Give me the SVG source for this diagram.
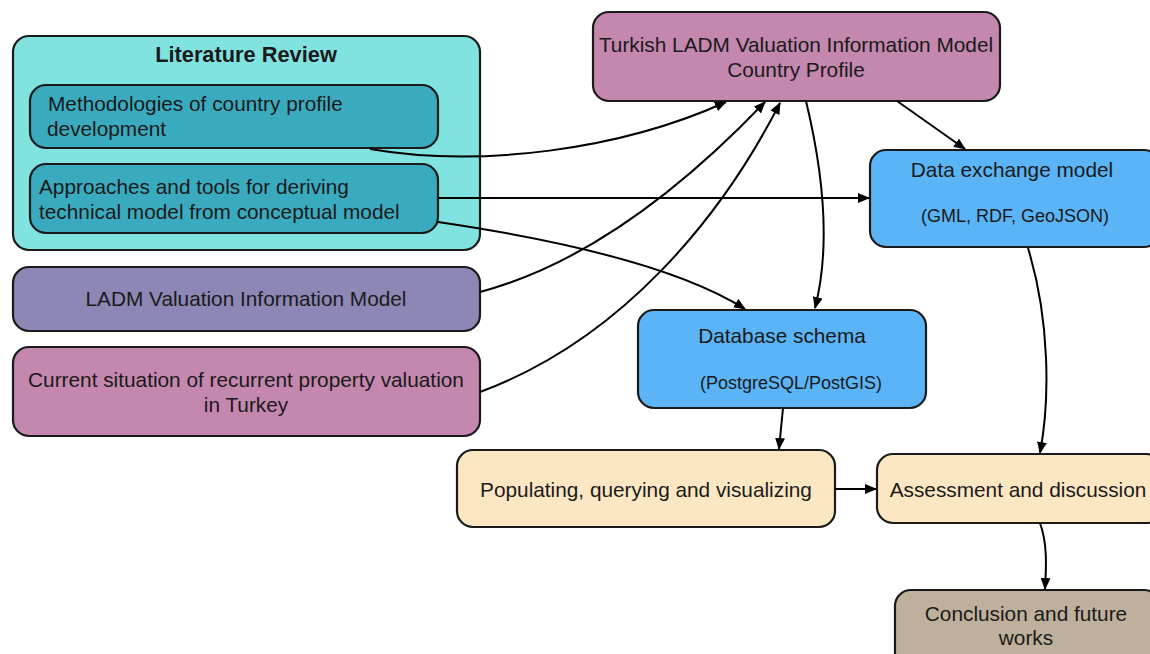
<svg xmlns="http://www.w3.org/2000/svg" width="1150" height="654" viewBox="0 0 1150 654">
<style>
.box{stroke:#1a1a1a;stroke-width:2.2}
.t{font-family:"Liberation Sans",Arial,sans-serif;font-size:20.8px;fill:#1a1a1a}
.s{font-size:18px}
.b{font-size:21.8px;font-weight:bold}
.c{text-anchor:middle}
.e{fill:none;stroke:#000;stroke-width:2}
</style>
<defs>
<marker id="ah" markerUnits="userSpaceOnUse" markerWidth="12" markerHeight="10" refX="11" refY="5" orient="auto">
<path d="M0,0 L12,5 L0,10 z" fill="#000"/>
</marker>
</defs>
<rect width="1150" height="654" fill="#fff"/>
<g id="lit">
<rect class="box" x="13" y="36" width="467" height="214" rx="16" fill="#80e3e0"/>
<text class="t c b" x="246" y="62">Literature Review</text>
</g>
<g id="meth">
<rect class="box" x="30" y="85" width="408" height="63" rx="16" fill="#3aabbf"/>
<text class="t" x="48" y="111">Methodologies of country profile</text>
<text class="t" x="47" y="136">development</text>
</g>
<g id="appr">
<rect class="box" x="30" y="164" width="408" height="69" rx="16" fill="#3aabbf"/>
<text class="t" x="39" y="194">Approaches and tools for deriving</text>
<text class="t" x="39" y="219">technical model from conceptual model</text>
</g>
<g id="ladm">
<rect class="box" x="13" y="267" width="467" height="64" rx="16" fill="#8c87b4"/>
<text class="t c" x="246" y="306">LADM Valuation Information Model</text>
</g>
<g id="curr">
<rect class="box" x="13" y="347" width="467" height="89" rx="16" fill="#c487ad"/>
<text class="t c" x="246" y="387">Current situation of recurrent property valuation</text>
<text class="t c" x="246" y="412">in Turkey</text>
</g>
<g id="turk">
<rect class="box" x="593" y="12" width="407" height="89" rx="16" fill="#c487ad"/>
<text class="t c" x="796" y="52">Turkish LADM Valuation Information Model</text>
<text class="t c" x="796" y="77">Country Profile</text>
</g>
<g id="dex">
<rect class="box" x="870" y="150" width="290" height="97" rx="16" fill="#5bb4f5"/>
<text class="t c" x="1012" y="177">Data exchange model</text>
<text class="t c s" x="1015" y="222">(GML, RDF, GeoJSON)</text>
</g>
<g id="db">
<rect class="box" x="638" y="310" width="288" height="98" rx="16" fill="#5bb4f5"/>
<text class="t c" x="782" y="343">Database schema</text>
<text class="t c s" x="791" y="389">(PostgreSQL/PostGIS)</text>
</g>
<g id="pop">
<rect class="box" x="457" y="450" width="378" height="77" rx="16" fill="#fde7c3"/>
<text class="t c" x="646" y="497">Populating, querying and visualizing</text>
</g>
<g id="ass">
<rect class="box" x="877" y="454" width="285" height="69" rx="16" fill="#fde7c3"/>
<text class="t c" x="1018" y="497">Assessment and discussion</text>
</g>
<g id="conc">
<rect class="box" x="895" y="590" width="265" height="80" rx="16" fill="#bfb09d"/>
<text class="t c" x="1026" y="621">Conclusion and future</text>
<text class="t c" x="1026" y="645">works</text>
</g>
<g id="connectors">
<path class="e" marker-end="url(#ah)" d="M370,149 C480,168 620,150 726,102"/>
<path class="e" marker-end="url(#ah)" d="M438,198 L869,198"/>
<path class="e" marker-end="url(#ah)" d="M438,222 C560,240 680,268 745,309"/>
<path class="e" marker-end="url(#ah)" d="M480,292 C600,260 700,170 765,102"/>
<path class="e" marker-end="url(#ah)" d="M480,392 C620,340 720,220 780,103"/>
<path class="e" marker-end="url(#ah)" d="M806,101 C825,180 830,250 815,308"/>
<path class="e" marker-end="url(#ah)" d="M897,101 L965,149"/>
<path class="e" marker-end="url(#ah)" d="M1028,248 C1050,320 1050,400 1040,453"/>
<path class="e" marker-end="url(#ah)" d="M783,408 L779,449"/>
<path class="e" marker-end="url(#ah)" d="M835,489 L876,489"/>
<path class="e" marker-end="url(#ah)" d="M1040,523 C1048,545 1046,570 1045,589"/>
</g>
</svg>
